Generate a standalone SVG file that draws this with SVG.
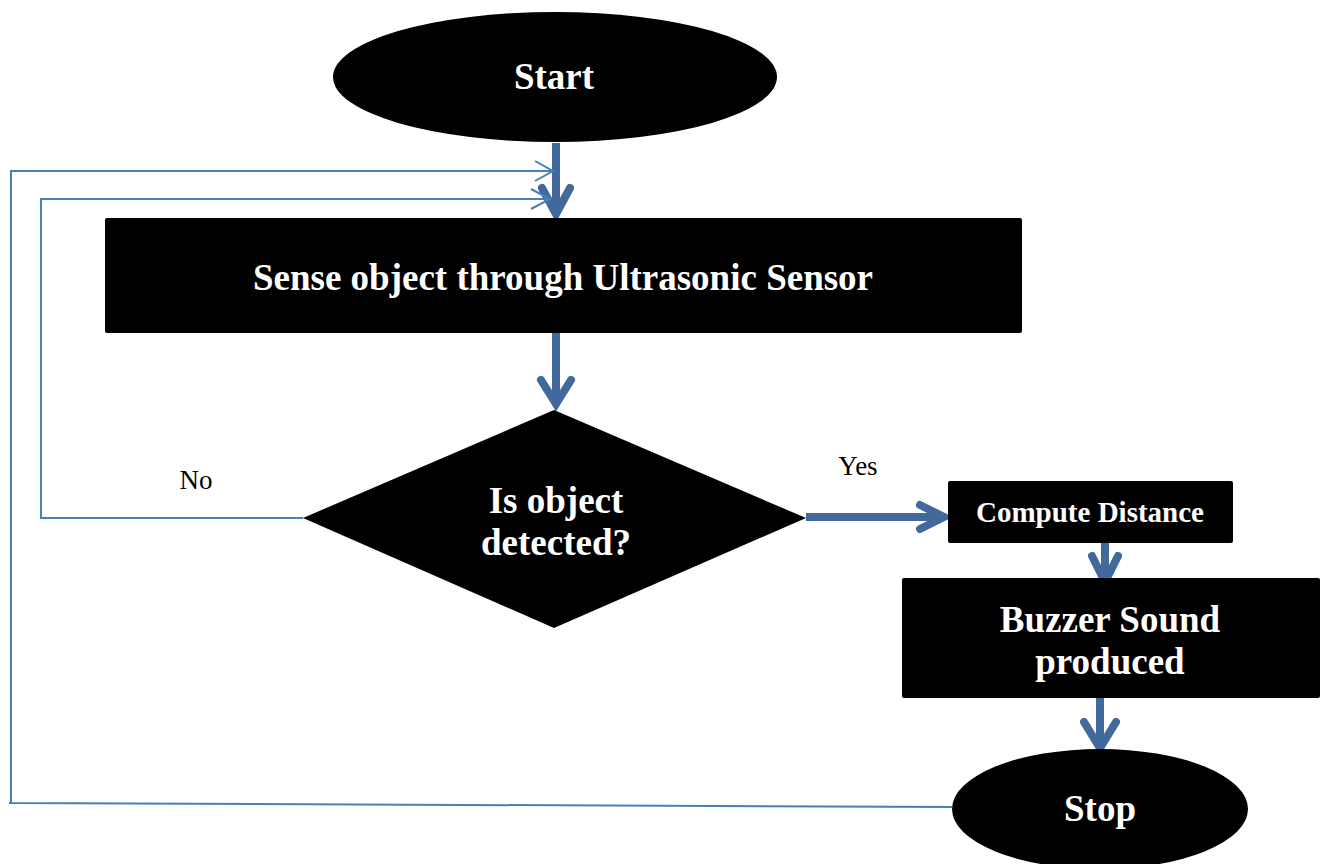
<svg xmlns="http://www.w3.org/2000/svg" width="1331" height="864" viewBox="0 0 1331 864">
<style>
.node{fill:#000}
.t{font-family:"Liberation Serif","Times New Roman",serif;font-weight:bold;fill:#fff;text-anchor:middle}
.lbl{font-family:"Liberation Serif","Times New Roman",serif;fill:#000;font-size:27px;text-anchor:middle}
.thin{fill:none;stroke:#4a7ebb;stroke-width:2}
.thick{fill:none;stroke:#41699b;stroke-width:8}
.head{fill:none;stroke:#41699b;stroke-width:8;stroke-linecap:round;stroke-linejoin:miter}
</style>
<rect width="1331" height="864" fill="#fff"/>
<g id="connectors">
<line class="thick" x1="556" y1="143" x2="556" y2="214"/>
<polyline class="head" points="542,188 556,214 570,188"/>
<line class="thick" x1="556" y1="333" x2="556" y2="404"/>
<polyline class="head" points="541,380 556,404 571,380"/>
<line class="thick" x1="806" y1="517" x2="940" y2="517"/>
<polyline class="head" points="920,505 944,517 920,529"/>
<line class="thick" x1="1105" y1="543" x2="1105" y2="580"/>
<polyline class="head" points="1092,556 1105,582 1118,556"/>
<line class="thick" x1="1100" y1="698" x2="1100" y2="748"/>
<polyline class="head" points="1084,722 1100,748 1116,722"/>
<polyline class="thin" points="303,518 41,518 41,199 550,199"/>
<polyline class="thin" points="531,189 550,199 531,209"/>
<polyline class="thin" points="952,807 9,803 11,803 11,171 553,171"/>
<polyline class="thin" points="535,161 553,171 535,181"/>
<text class="lbl" x="196" y="489">No</text>
<text class="lbl" x="858" y="475">Yes</text>
</g>
<g id="start">
<ellipse class="node" cx="555" cy="77" rx="222" ry="65"/>
<text class="t" x="554" y="89" font-size="37">Start</text>
</g>
<g id="sense">
<rect class="node" x="105" y="218" width="917" height="115" rx="2"/>
<text class="t" x="563" y="290" font-size="37">Sense object through Ultrasonic Sensor</text>
</g>
<g id="decision">
<polygon class="node" points="554,410 806,518 554,628 303,518"/>
<text class="t" x="556" y="513" font-size="37">Is object</text>
<text class="t" x="556" y="555" font-size="37">detected?</text>
</g>
<g id="compute">
<rect class="node" x="948" y="481" width="285" height="62" rx="2"/>
<text class="t" x="1090" y="522" font-size="29">Compute Distance</text>
</g>
<g id="buzzer">
<rect class="node" x="902" y="578" width="418" height="120" rx="2"/>
<text class="t" x="1110" y="632" font-size="37">Buzzer Sound</text>
<text class="t" x="1110" y="674" font-size="37">produced</text>
</g>
<g id="stop">
<ellipse class="node" cx="1100" cy="809" rx="148" ry="60"/>
<text class="t" x="1100" y="821" font-size="37">Stop</text>
</g>
</svg>
